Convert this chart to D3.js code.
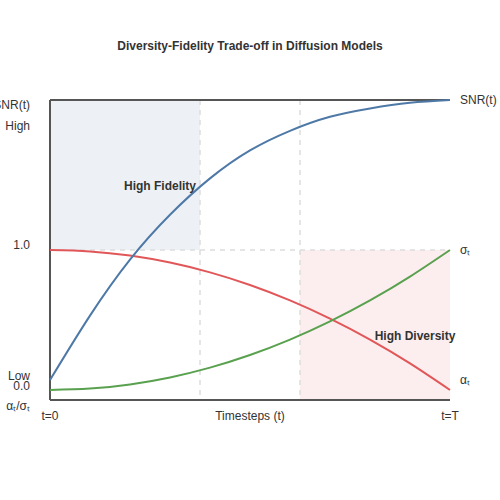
<!DOCTYPE html>
<html>
<head>
<meta charset="utf-8">
<script src="https://cdn.jsdelivr.net/npm/d3@7"></script>
<style>
  body { margin: 0; background: #fff; }
  svg text { font-family: "Liberation Sans", Arial, sans-serif; fill: #333; }
</style>
</head>
<body>
<div id="chart"></div>
<script>
// timesteps (normalised 0..1) and values
var timesteps = [0, 0.1, 0.2, 0.3, 0.4, 0.5, 0.6, 0.7, 0.8, 0.9, 1.0];
var snrValues = [0, 0.23, 0.43, 0.59, 0.72, 0.82, 0.89, 0.94, 0.97, 0.99, 1.0];
var alphaValues = [1.0, 0.99, 0.96, 0.91, 0.84, 0.75, 0.64, 0.51, 0.36, 0.19, 0.0];
var sigmaValues = [0, 0.01, 0.04, 0.09, 0.16, 0.25, 0.36, 0.49, 0.64, 0.81, 1.0];

// boundaries of the dashed guides / shaded regions
var guideTimes = [0.375, 0.625];
var fidelityRange = [0, 0.375];
var diversityRange = [0.625, 1.0];

var width = 500,
    height = 500;

var svg = d3.select("#chart").append("svg")
    .attr("width", width)
    .attr("height", height);

var x = d3.scaleLinear().domain([0, 1]).range([50, 450]);
var yCoef = d3.scaleLinear().domain([0, 1]).range([390, 250]);
var ySnr = d3.scaleLinear().domain([0, 1]).range([380, 100]);
var plotTop = 100,
    plotBottom = 400;

// shaded regions
svg.append("rect")
    .attr("x", x(fidelityRange[0]))
    .attr("y", plotTop)
    .attr("width", x(fidelityRange[1]) - x(fidelityRange[0]))
    .attr("height", yCoef(1) - plotTop)
    .attr("fill", "#4e79a7")
    .attr("fill-opacity", 0.1);

svg.append("rect")
    .attr("x", x(diversityRange[0]))
    .attr("y", yCoef(1))
    .attr("width", x(diversityRange[1]) - x(diversityRange[0]))
    .attr("height", plotBottom - yCoef(1))
    .attr("fill", "#e15759")
    .attr("fill-opacity", 0.1);

// dashed guides
svg.selectAll(".vguide")
    .data(guideTimes)
    .enter().append("line")
    .attr("class", "vguide")
    .attr("x1", function(d) { return x(d); })
    .attr("x2", function(d) { return x(d); })
    .attr("y1", plotTop)
    .attr("y2", plotBottom)
    .attr("stroke", "#ddd")
    .attr("stroke-width", 1.5)
    .attr("stroke-dasharray", "5,5");

svg.append("line")
    .attr("x1", x(0))
    .attr("x2", x(1))
    .attr("y1", yCoef(1))
    .attr("y2", yCoef(1))
    .attr("stroke", "#ddd")
    .attr("stroke-width", 1.5)
    .attr("stroke-dasharray", "5,5");

// frame: left axis, bottom axis, top line
var frame = svg.append("g")
    .attr("stroke", "#555")
    .attr("stroke-width", 2);
frame.append("line").attr("x1", x(0)).attr("x2", x(0)).attr("y1", plotTop).attr("y2", plotBottom);
frame.append("line").attr("x1", x(0)).attr("x2", x(1)).attr("y1", plotBottom).attr("y2", plotBottom);
frame.append("line").attr("x1", x(0)).attr("x2", x(1)).attr("y1", plotTop).attr("y2", plotTop);

// curves
function drawCurve(values, yScale, color) {
    var line = d3.line()
        .x(function(d, i) { return x(timesteps[i]); })
        .y(function(d) { return yScale(d); })
        .curve(d3.curveNatural);
    svg.append("path")
        .datum(values)
        .attr("fill", "none")
        .attr("stroke", color)
        .attr("stroke-width", 2)
        .attr("d", line);
}

drawCurve(alphaValues, yCoef, "#e15759");
drawCurve(sigmaValues, yCoef, "#59a14f");
drawCurve(snrValues, ySnr, "#4e79a7");

// title
svg.append("text")
    .attr("x", width / 2)
    .attr("y", 50)
    .attr("text-anchor", "middle")
    .style("font-size", "12px")
    .style("font-weight", "bold")
    .text("Diversity-Fidelity Trade-off in Diffusion Models");

// left labels
var leftLabels = [
    { text: "SNR(t)", y: 109 },
    { text: "High", y: 130 },
    { text: "1.0", y: 249 },
    { text: "Low", y: 380 },
    { text: "0.0", y: 390 },
    { text: "αₜ/σₜ", y: 410 }
];
svg.selectAll(".left-label")
    .data(leftLabels)
    .enter().append("text")
    .attr("class", "left-label")
    .attr("x", 30)
    .attr("y", function(d) { return d.y; })
    .attr("text-anchor", "end")
    .style("font-size", "12px")
    .text(function(d) { return d.text; });

// bottom labels
var bottomLabels = [
    { text: "t=0", t: 0 },
    { text: "Timesteps (t)", t: 0.5 },
    { text: "t=T", t: 1 }
];
svg.selectAll(".bottom-label")
    .data(bottomLabels)
    .enter().append("text")
    .attr("class", "bottom-label")
    .attr("x", function(d) { return x(d.t); })
    .attr("y", 420)
    .attr("text-anchor", "middle")
    .style("font-size", "12px")
    .text(function(d) { return d.text; });

// curve end labels
var endLabels = [
    { text: "SNR(t)", y: ySnr(snrValues[snrValues.length - 1]) },
    { text: "σₜ", y: yCoef(sigmaValues[sigmaValues.length - 1]) },
    { text: "αₜ", y: yCoef(alphaValues[alphaValues.length - 1]) - 10 }
];
svg.selectAll(".end-label")
    .data(endLabels)
    .enter().append("text")
    .attr("class", "end-label")
    .attr("x", x(1) + 10)
    .attr("y", function(d) { return d.y; })
    .attr("dy", "0.35em")
    .style("font-size", "12px")
    .text(function(d) { return d.text; });

// region labels
svg.append("text")
    .attr("x", 160)
    .attr("y", 190)
    .attr("text-anchor", "middle")
    .style("font-size", "12px")
    .style("font-weight", "bold")
    .text("High Fidelity");

svg.append("text")
    .attr("x", 415)
    .attr("y", 340)
    .attr("text-anchor", "middle")
    .style("font-size", "12px")
    .style("font-weight", "bold")
    .text("High Diversity");
</script>
</body>
</html>
